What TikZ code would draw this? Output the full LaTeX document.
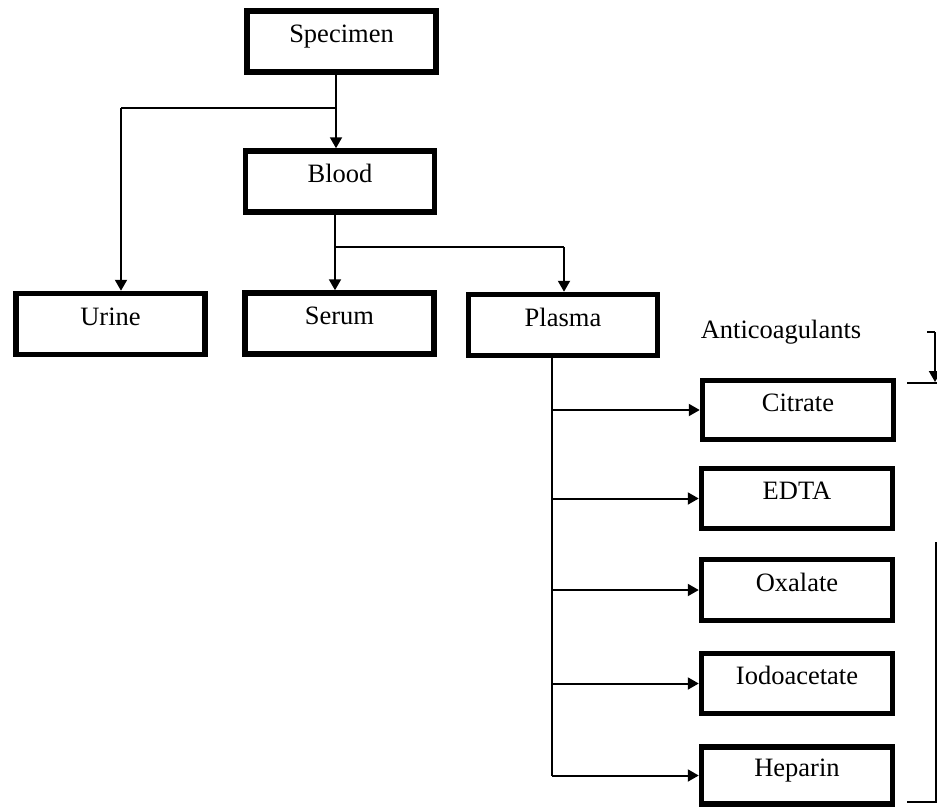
\documentclass[tikz,border=0pt]{standalone}
\usepackage{fontspec}
\setmainfont{Liberation Serif}
\usetikzlibrary{arrows.meta}
\begin{document}
\begin{tikzpicture}[x=1pt,y=-1pt,
  box/.style={draw=black, line width=5.5pt, rectangle, inner sep=0pt,
    minimum width=189pt, minimum height=61pt,
    font=\fontsize{26.5}{30}\selectfont, text height=17.5pt, text depth=15pt},
  link/.style={draw=black, line width=2pt},
  arr/.style={link, -{Triangle[length=11pt,width=12pt]}},
  lbl/.style={font=\fontsize{26.5}{30}\selectfont, inner sep=0pt}]
\useasboundingbox (0,0) rectangle (937,808);

% boxes of the tree
\node[box] (spec)  at (341.5,41.5) {Specimen};
\node[box] (blood) at (340,181.5)  {Blood};
\node[box] (urine) at (110.5,324)  {Urine};
\node[box] (serum) at (339.5,323.5) {Serum};
\node[box] (plasma) at (563,325)   {Plasma};

\node[lbl] (anti) at (781,332) {Anticoagulants};

\node[box, minimum width=191pt, minimum height=59pt] (citr) at (798,410)   {Citrate};
\node[box, minimum width=191pt, minimum height=60pt] (edta) at (797,498.5) {EDTA};
\node[box, minimum width=191pt, minimum height=61pt] (oxal) at (797,590)   {Oxalate};
\node[box, minimum width=191pt, minimum height=60pt] (iodo) at (797,683.5) {Iodoacetate};
\node[box, minimum width=191pt, minimum height=57pt] (hepa) at (797,775.5) {Heparin};

% junctions
\coordinate (j1) at (336,108);
\coordinate (u)  at (121,108);
\coordinate (j2) at (335,247);
\coordinate (p)  at (564,247);
\coordinate (t)  at (552,0);

% specimen -> blood, urine
\draw[arr] (j1 |- spec.south) -- (j1 |- blood.north);
\draw[link] (j1) -- (u);
\draw[arr] (u) -- (u |- urine.north);

% blood -> serum, plasma
\draw[arr] (j2 |- blood.south) -- (j2 |- serum.north);
\draw[link] (j2) -- (p);
\draw[arr] (p) -- (p |- plasma.north);

% plasma -> anticoagulants
\draw[link] (t |- plasma.south) -- (t |- hepa.west);
\foreach \b in {citr,edta,oxal,iodo,hepa}
  \draw[arr] (t |- \b.west) -- (\b.west);

% brackets at the right edge
\coordinate (b1) at (927,332);
\coordinate (b2) at (935,332);
\coordinate (b3) at (935,382);
\coordinate (b4) at (907,383);
\coordinate (b5) at (937,383);
\draw[link] (b1) -- (b2);
\draw[arr] (b2) -- (b3);
\draw[link] (b4) -- (b5);

\coordinate (c1) at (936,542);
\coordinate (c2) at (936,802);
\coordinate (c3) at (907,802);
\draw[link] (c1) -- (c2) -- (c3);
\end{tikzpicture}
\end{document}
